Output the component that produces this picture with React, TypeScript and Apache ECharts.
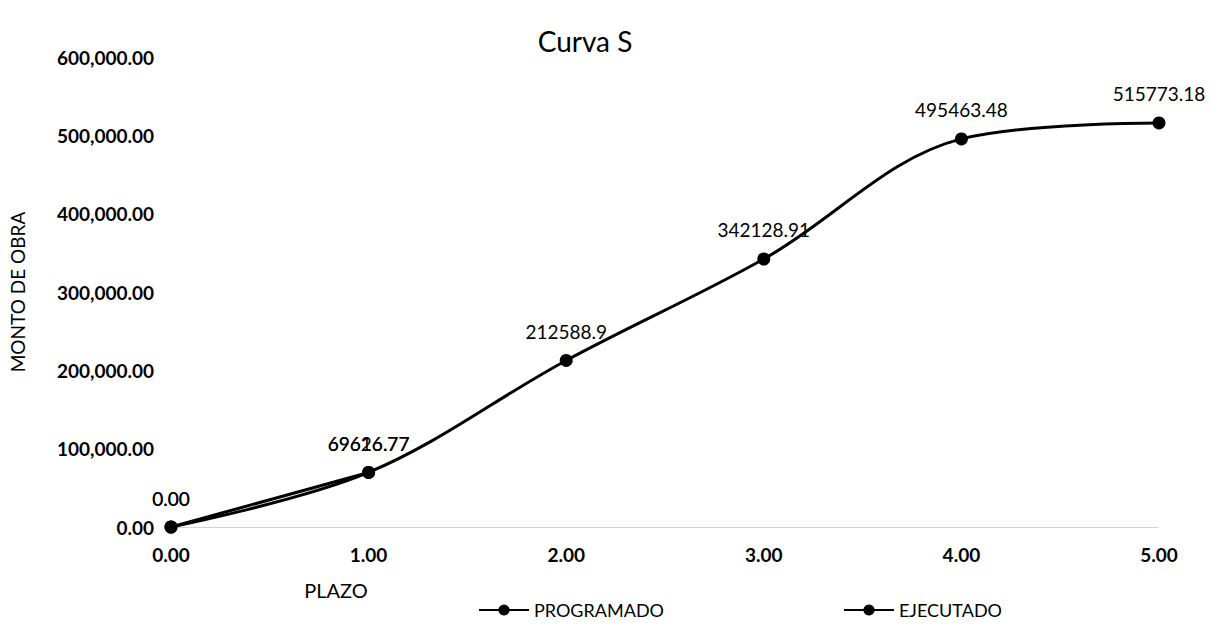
import React, { useEffect, useRef } from "react";
import * as echarts from "echarts";

const plazo = [0, 1, 2, 3, 4, 5];
const programado = [0, 69616.77, 212588.9, 342128.91, 495463.48, 515773.18];
const ejecutadoPlazo = [0, 1];
const ejecutado = [0, 69626.77];
const seriesNames = ["PROGRAMADO", "EJECUTADO"];
const titleText = "Curva S";
const xName = "PLAZO";
const yName = "MONTO DE OBRA";

const FONT = "Lato, 'Noto Sans', sans-serif";

const fmtAxis = (v: number) =>
  v.toLocaleString("en-US", { minimumFractionDigits: 2, maximumFractionDigits: 2 });

const fmtLabel = (p: any) => {
  const v = p.value[1];
  return v === 0 ? "0.00" : String(v);
};

export default function App() {
  const ref = useRef<HTMLDivElement>(null);
  useEffect(() => {
    if (!ref.current) return;
    const chart = echarts.init(ref.current, undefined, { renderer: "svg" });
    const labelCfg = {
      show: true,
      position: "top",
      distance: 13,
      color: "#000",
      fontFamily: FONT,
      fontSize: 19,
      formatter: fmtLabel,
    };
    chart.setOption({
      animation: false,
      backgroundColor: "#fff",
      title: {
        text: titleText,
        left: 580,
        top: 22,
        textAlign: "center",
        textStyle: { fontFamily: FONT, fontSize: 28, fontWeight: "normal", color: "#000" },
      },
      grid: { left: 169, right: 64, top: 57, bottom: 102, containLabel: false },
      legend: {
        left: 473,
        top: 596,
        itemWidth: 50,
        itemHeight: 14,
        itemGap: 179,
        textStyle: { fontFamily: FONT, fontSize: 18, color: "#000" },
        data: seriesNames,
      },
      xAxis: {
        type: "value",
        min: 0,
        max: 5,
        interval: 1,
        axisLine: { show: true, lineStyle: { color: "#c8c8c8", type: "dotted", width: 1 } },
        axisTick: { show: false },
        splitLine: { show: false },
        axisLabel: {
          margin: 18,
          color: "#000",
          fontFamily: FONT,
          fontSize: 19,
          fontWeight: "bold",
          formatter: (v: number) => v.toFixed(2),
        },
      },
      yAxis: {
        type: "value",
        min: 0,
        max: 600000,
        interval: 100000,
        name: yName,
        nameLocation: "middle",
        nameGap: 144,
        nameTextStyle: { fontFamily: FONT, fontSize: 19, color: "#000" },
        axisLine: { show: false },
        axisTick: { show: false },
        splitLine: { show: false },
        axisLabel: {
          margin: 17,
          color: "#000",
          fontFamily: FONT,
          fontSize: 19,
          fontWeight: "bold",
          formatter: fmtAxis,
        },
      },
      graphic: [
        {
          type: "text",
          x: 336,
          y: 590,
          style: {
            text: xName,
            fontFamily: FONT,
            fontSize: 20,
            fill: "#000",
            textAlign: "center",
            textVerticalAlign: "middle",
          },
        },
      ],
      series: [
        {
          name: seriesNames[0],
          type: "line",
          smooth: 0.35,
          symbol: "circle",
          symbolSize: 13,
          lineStyle: { color: "#000", width: 3 },
          itemStyle: { color: "#000" },
          label: labelCfg,
          data: plazo.map((x, i) => [x, programado[i]]),
          z: 3,
        },
        {
          name: seriesNames[1],
          type: "line",
          smooth: 0.35,
          symbol: "circle",
          symbolSize: 13,
          lineStyle: { color: "#000", width: 3 },
          itemStyle: { color: "#000" },
          label: labelCfg,
          data: ejecutadoPlazo.map((x, i) => [x, ejecutado[i]]),
          z: 2,
        },
      ],
    });
    return () => chart.dispose();
  }, []);
  return (
    <div
      ref={ref}
      style={{ position: "fixed", left: 0, top: 0, width: 1223, height: 629, background: "#fff" }}
    />
  );
}
